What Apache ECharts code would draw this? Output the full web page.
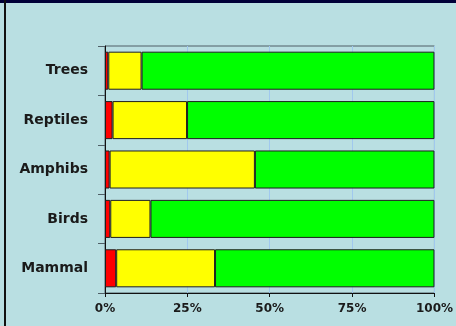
<!DOCTYPE html>
<html>
<head>
<meta charset="utf-8">
<script src="https://cdn.jsdelivr.net/npm/echarts@6/dist/echarts.min.js"></script>
<style>
html,body{margin:0;padding:0;background:#b9dfe2;}
#wrap{position:relative;width:456px;height:326px;background:#b9dfe2;overflow:hidden;}
#top{position:absolute;left:0;top:0;width:456px;height:3px;background:#000038;}
#left{position:absolute;left:4px;top:0;width:2px;height:326px;background:#111;}
#chart{position:absolute;left:0;top:0;width:456px;height:326px;}
</style>
</head>
<body>
<div id="wrap">
<div id="chart"></div>
<div id="top"></div>
<div id="left"></div>
</div>
<script>
const categories = ['Trees', 'Reptiles', 'Amphibs', 'Birds', 'Mammal'];
const redValues = [1.0, 2.3, 1.4, 1.6, 3.4];
const yellowValues = [10.1, 22.6, 44.1, 12.2, 30.0];
const greenValues = [88.9, 75.1, 54.5, 86.2, 66.6];
const xTicks = [0, 25, 50, 75, 100];

const chart = echarts.init(document.getElementById('chart'), null, {renderer: 'canvas'});
const barStyle = (c) => ({color: c, borderColor: '#1e1e1e', borderWidth: 1});
chart.setOption({
  animation: false,
  backgroundColor: 'transparent',
  grid: {left: 105, right: 20, top: 46, bottom: 33, show: true, borderColor: '#4f5f66', borderWidth: 1, backgroundColor: 'transparent'},
  xAxis: {
    type: 'value', min: xTicks[0], max: xTicks[xTicks.length - 1], interval: 25,
    axisLine: {show: true, lineStyle: {color: '#111', width: 1}},
    axisTick: {show: true, length: 4, lineStyle: {color: '#111'}},
    splitLine: {show: true, lineStyle: {color: '#a0c8ee', width: 1}},
    axisLabel: {formatter: '{value}%', margin: 10, color: '#1a1a1a', fontFamily: 'DejaVu Sans', fontWeight: 'bold', fontSize: 12}
  },
  yAxis: {
    type: 'category', data: categories, inverse: true,
    axisLine: {show: true, lineStyle: {color: '#111', width: 1}},
    axisTick: {show: true, length: 7, lineStyle: {color: '#4f5f66'}},
    axisLabel: {margin: 17, color: '#1a1a1a', fontFamily: 'DejaVu Sans', fontWeight: 'bold', fontSize: 14}
  },
  series: [
    {type: 'bar', stack: 'a', data: redValues, itemStyle: barStyle('#ff0000'), barCategoryGap: '23%'},
    {type: 'bar', stack: 'a', data: yellowValues, itemStyle: barStyle('#ffff00'), barCategoryGap: '23%'},
    {type: 'bar', stack: 'a', data: greenValues, itemStyle: barStyle('#00ff00'), barCategoryGap: '23%'}
  ]
});
</script>
</body>
</html>
